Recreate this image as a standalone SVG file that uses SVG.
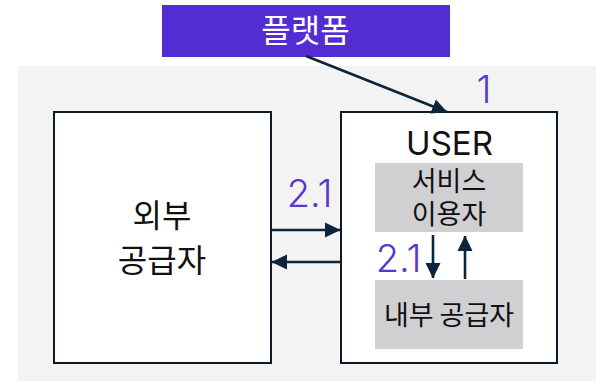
<svg xmlns="http://www.w3.org/2000/svg" width="596" height="381" viewBox="0 0 596 381">
<style>
.box{fill:#fff;stroke:#0b1a26;stroke-width:2}
.inner{fill:#d0d0d3}
.k{font-family:"Noto Sans CJK KR","Noto Sans",sans-serif;text-anchor:middle;fill:#111}
.n{font-family:Inter,"Noto Sans",sans-serif;font-size:38px;font-weight:300;fill:#5a35d0;text-anchor:middle}
.c{fill:none;stroke:#0c2538;stroke-width:2.6}
</style>
<defs>
<marker id="ah" markerUnits="userSpaceOnUse" markerWidth="16" markerHeight="16" refX="15" refY="8" orient="auto">
<path d="M0,0.5L15.5,8L0,15.5Z" fill="#0c2538"/>
</marker>
</defs>
<rect id="background" x="18" y="66" width="578" height="315" fill="#f3f3f3"/>
<g id="platform">
<rect x="162" y="5" width="288" height="52" fill="#532dd1"/>
<text class="k" x="305.500" y="42" font-size="32" style="fill:#fff">플랫폼</text>
</g>
<g id="external-supplier">
<rect class="box" x="54" y="112" width="217" height="251"/>
<text class="k" x="162" y="227" font-size="32">외부</text>
<text class="k" x="162" y="272" font-size="32">공급자</text>
</g>
<g id="user">
<rect class="box" x="341" y="112" width="216" height="251"/>
<text x="449.500" y="155" font-family="Inter,'Noto Sans',sans-serif" font-size="33" text-anchor="middle" fill="#111">USER</text>
</g>
<g id="service-user">
<rect class="inner" x="375" y="163" width="148" height="69"/>
<text class="k" x="449" y="191" font-size="27">서비스</text>
<text class="k" x="449" y="224" font-size="27">이용자</text>
</g>
<g id="internal-supplier">
<rect class="inner" x="375" y="280" width="148" height="69"/>
<text class="k" x="449" y="325" font-size="27">내부 공급자</text>
</g>
<g id="connectors">
<path class="c" d="M306,56L447,112" marker-end="url(#ah)"/>
<path class="c" d="M271,230L340,230" marker-end="url(#ah)"/>
<path class="c" d="M341,262L272,262" marker-end="url(#ah)"/>
<path class="c" d="M433,235L433,278" marker-end="url(#ah)"/>
<path class="c" d="M465,279L465,236" marker-end="url(#ah)"/>
</g>
<g id="labels">
<text class="n" x="484" y="103">1</text>
<text class="n" x="309.500" y="207">2.1</text>
<text class="n" x="398.500" y="272">2.1</text>
</g>
</svg>
